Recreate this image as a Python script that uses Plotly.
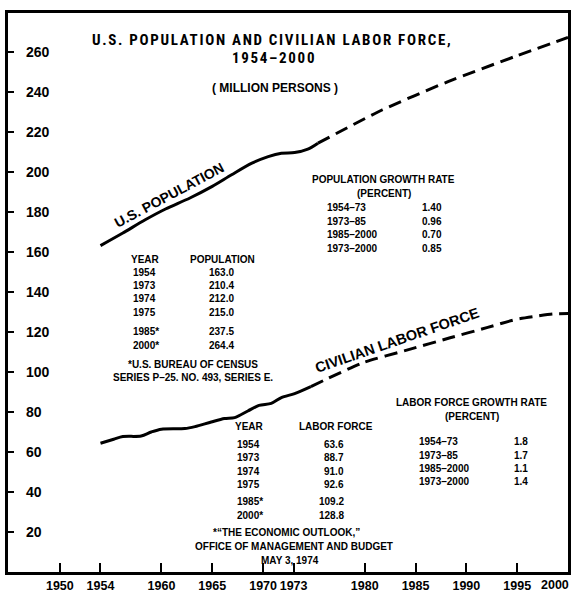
import plotly.graph_objects as go

# ---------------- data ----------------
x_ticks = [1950, 1954, 1960, 1965, 1970, 1973, 1980, 1985, 1990, 1995, 2000]
x_tick_labels = ["1950", "1954", "1960", "1965", "1970", "1973", "1980", "1985", "1990", "1995", "2000"]
y_ticks = [20, 40, 60, 80, 100, 120, 140, 160, 180, 200, 220, 240, 260]
y_tick_labels = ["20", "40", "60", "80", "100", "120", "140", "160", "180", "200", "220", "240", "260"]

pop_years_actual = [1954, 1956.2, 1958.4, 1960.4, 1962.8, 1965, 1966.9, 1968.9, 1970.5, 1971.8, 1973.1, 1974.4, 1975.4]
pop_actual = [163.2, 169.5, 176.1, 181.5, 187.0, 192.8, 198.6, 204.4, 207.7, 209.4, 209.7, 211.4, 214.4]
pop_years_proj = [1975.4, 1981.7, 1988.2, 1994.7, 2000]
pop_proj = [214.4, 231.0, 245.2, 257.6, 267.3]

labor_years_actual = [1954, 1955.3, 1956.2, 1958, 1959, 1960, 1962.3, 1963.3, 1964.9, 1966.2, 1967.2,
                      1968.5, 1969.6, 1970.8, 1971.8, 1973.1, 1974.7]
labor_actual = [64.4, 66.4, 67.7, 68.0, 70.0, 71.4, 71.7, 72.7, 75.0, 76.7, 77.2,
                80.5, 83.3, 84.3, 87.2, 89.2, 92.7]
labor_years_proj = [1974.7, 1979.8, 1984.4, 1988.4, 1992.1, 1994.8, 1996.9, 1998.5, 2000]
labor_proj = [92.7, 104.6, 111.3, 117.1, 122.3, 126.2, 127.9, 129.0, 129.2]

pop_table_years = ["1954", "1973", "1974", "1975", "1985*", "2000*"]
pop_table_values = ["163.0", "210.4", "212.0", "215.0", "237.5", "264.4"]
labor_table_years = ["1954", "1973", "1974", "1975", "1985*", "2000*"]
labor_table_values = ["63.6", "88.7", "91.0", "92.6", "109.2", "128.8"]

pop_growth_periods = ["1954\u201373", "1973\u201385", "1985\u20132000", "1973\u20132000"]
pop_growth_rates = ["1.40", "0.96", "0.70", "0.85"]
labor_growth_periods = ["1954\u201373", "1973\u201385", "1985\u20132000", "1973\u20132000"]
labor_growth_rates = ["1.8", "1.7", "1.1", "1.4"]

# ---------------- layout helpers ----------------
W, H = 575, 597
X0, X1, Y0, Y1 = 8, 571, 13, 573


def px(x):
    return (x - X0) / (X1 - X0)


def py(y):
    return (Y1 - y) / (Y1 - Y0)


FONT = "Liberation Sans, Arial, Helvetica, sans-serif"
TITLE_FONT = "Roboto Condensed, DejaVu Sans Condensed, Liberation Sans, sans-serif"

fig = go.Figure()
fig.add_trace(go.Scatter(x=pop_years_actual, y=pop_actual, mode="lines", hoverinfo="skip",
                         line=dict(color="black", width=3, shape="spline", smoothing=0.8)))
fig.add_trace(go.Scatter(x=pop_years_proj, y=pop_proj, mode="lines", hoverinfo="skip",
                         line=dict(color="black", width=3, dash="13px,7px", shape="spline", smoothing=0.6)))
fig.add_trace(go.Scatter(x=labor_years_actual, y=labor_actual, mode="lines", hoverinfo="skip",
                         line=dict(color="black", width=3, shape="spline", smoothing=0.8)))
fig.add_trace(go.Scatter(x=labor_years_proj, y=labor_proj, mode="lines", hoverinfo="skip",
                         line=dict(color="black", width=3, dash="13px,7px", shape="spline", smoothing=0.6)))

ann = []


def txt(text, x, y, size=10, anchor="center", angle=0, family=FONT, weight="bold", **kw):
    ann.append(dict(text=text, x=px(x), y=py(y), xref="paper", yref="paper", showarrow=False,
                    xanchor=anchor, yanchor="middle", textangle=angle,
                    font=dict(family=family, size=size, color="black", weight=weight), **kw))


# title
sp = '<span style="letter-spacing:1.7px">%s</span>'
txt(sp % "U.S. POPULATION AND CIVILIAN LABOR FORCE,", 273, 40.5, size=15, family=TITLE_FONT)
txt(sp % "1954\u20132000", 275, 58, size=15, family=TITLE_FONT)
txt("( MILLION PERSONS )", 276, 88, size=12)

# curve labels
txt("U.S. POPULATION", 170, 195, size=14, angle=-28)
txt("CIVILIAN LABOR FORCE", 400, 341, size=14.5, angle=-19)

# population table
pop_rows_y = [272.7, 286, 299.3, 312.7, 332.5, 346]
txt("YEAR", 130, 259.5, anchor="left")
txt("POPULATION", 223.5, 259.5)
for yy, yr, v in zip(pop_rows_y, pop_table_years, pop_table_values):
    txt(yr, 132, yy, anchor="left")
    txt(v, 222.5, yy)
txt("*U.S. BUREAU OF CENSUS", 194, 365)
txt("SERIES P\u201325. NO. 493, SERIES E.", 194, 378.5)

# population growth rate
txt("POPULATION GROWTH RATE", 386, 180)
txt("(PERCENT)", 386, 194)
for yy, p, r in zip([208, 221.5, 235, 248.5], pop_growth_periods, pop_growth_rates):
    txt(p, 327, yy, anchor="left")
    txt(r, 422, yy, anchor="left")

# labor force table
lab_rows_y = [445, 458.5, 472, 485.5, 502.5, 516]
txt("YEAR", 234, 427, anchor="left")
txt("LABOR FORCE", 337.5, 427)
for yy, yr, v in zip(lab_rows_y, labor_table_years, labor_table_values):
    txt(yr, 236, yy, anchor="left")
    txt(v, 348, yy, anchor="right")
txt('*\u201cTHE ECONOMIC OUTLOOK,\u201d', 288, 533)
txt("OFFICE OF MANAGEMENT AND BUDGET", 296, 547.5)
txt("MAY 3, 1974", 292, 561.5)

# labor force growth rate
txt("LABOR FORCE GROWTH RATE", 474, 403)
txt("(PERCENT)", 474, 417)
for yy, p, r in zip([442.7, 456, 469.3, 482.7], labor_growth_periods, labor_growth_rates):
    txt(p, 419, yy, anchor="left")
    txt(r, 515, yy, anchor="left")

# last x tick label (shifted inward as in the original)
ann.append(dict(text=x_tick_labels[-1], x=x_ticks[-1], y=py(586.5), xref="x", yref="paper",
                showarrow=False, xanchor="center", yanchor="middle", xshift=-13,
                font=dict(family=FONT, size=12.5, color="black", weight="bold")))

fig.update_layout(
    width=W, height=H,
    margin=dict(l=X0, r=W - X1, t=Y0, b=H - Y1, pad=0),
    paper_bgcolor="white", plot_bgcolor="white",
    showlegend=False,
    annotations=ann,
    xaxis=dict(range=[1944.9, 2000], tickvals=x_ticks, ticktext=x_tick_labels[:-1] + [""],
               ticks="inside", ticklen=9, tickwidth=2, tickcolor="black",
               showline=True, linecolor="black", linewidth=2.5, mirror=True,
               showgrid=False, zeroline=False,
               tickfont=dict(family=FONT, size=12.5, color="black", weight="bold")),
    yaxis=dict(range=[0, 279.5], tickvals=y_ticks, ticktext=y_tick_labels,
               ticks="inside", ticklen=6, tickwidth=2, tickcolor="black",
               ticklabelposition="inside", ticklabelstandoff=12,
               showline=True, linecolor="black", linewidth=2.5, mirror=True,
               showgrid=False, zeroline=False,
               tickfont=dict(family=FONT, size=14, color="black", weight="bold")),
)

fig.write_html("out.html", config={"displayModeBar": False},
               post_script="document.body.style.margin='0px';document.body.style.overflow='hidden';")
